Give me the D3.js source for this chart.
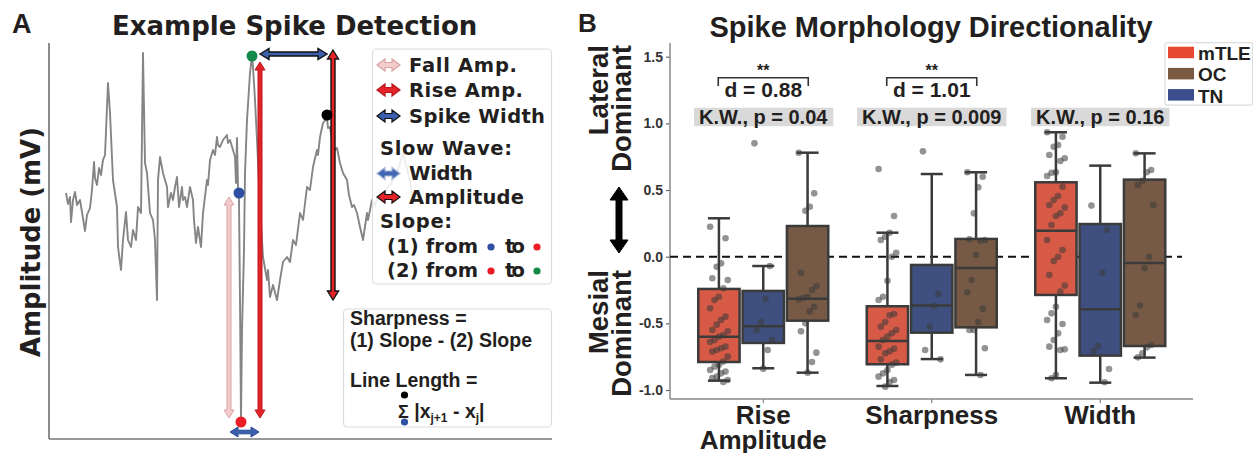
<!DOCTYPE html>
<html>
<head>
<meta charset="utf-8">
<script src="https://cdn.jsdelivr.net/npm/d3@7"></script>
<style>
  body { margin: 0; background: #fff; }
  svg { display: block; font-family: "Liberation Sans", Arial, sans-serif; }
</style>
</head>
<body>
<div id="chart"></div>
<script>
const width = 1253;
const height = 453;
const wideFont = "\"DejaVu Sans\", Verdana, sans-serif";

// ---------- panel A data (time in samples, amplitude in arbitrary units) ----------
const traceT = [17,19,21,22,24,26,28,31,33,36,38,41,43,45,46,48,50,52,54,56,59,61,64,68,69,72,74,77,79,82,84,87,89,92,94,96,98,101,104,106,108,109,111,114,118,119,122,124,126,128,130,133,134,136,138,141,144,145,147,149,152,154,158,159,161,164,166,168,169,171,174,178,179,181,184,186,187,188,189,190,191,192,193,195,196,198,201,203,204,206,208,211,214,218,219,221,224,228,231,234,238,241,244,247,251,254,258,261,264,268,269,271,274,278,279,281,283,286,288,291,294,298,300,303,305,308,311,314,318,319,323,326,329,334,337,341,344,349,354,357,361,364];
const traceA = [246,235,242,217,239,247,234,239,227,208,224,231,249,277,261,254,271,264,279,284,356,326,259,232,192,169,199,227,199,192,209,199,232,226,386,276,266,226,219,199,139,259,282,266,252,232,246,239,252,262,232,252,239,242,232,252,239,219,196,212,192,226,259,254,279,289,284,302,294,292,299,304,296,299,289,282,256,301,252,239,139,19,109,189,266,319,366,383,372,339,299,232,182,159,169,142,154,139,159,177,182,177,199,194,226,219,252,249,272,289,284,302,316,321,311,312,299,289,291,276,266,259,244,232,234,226,212,199,226,219,239,234,242,239,249,254,259,269,286,274,259,236];

const keyPoints = [
  { name: "onset",  t: 190, a: 246, color: "#2f4fa2" },
  { name: "trough", t: 192, a: 17,  color: "#ec1c24" },
  { name: "peak",   t: 203, a: 383, color: "#13894a" },
  { name: "slow",   t: 278, a: 324, color: "#000000" }
];
const slowTroughA = 139;

const legendA = [
  { label: "Fall Amp.",   fill: "#f3cccc", stroke: "#d9a3a3", len: 108 },
  { label: "Rise Amp.",   fill: "#e52228", stroke: "#b8171c", len: 114 },
  { label: "Spike Width", fill: "#3c5fae", stroke: "#111111", len: 136 }
];
const legendSlow = [
  { label: "Width",     fill: "#4266b3", stroke: "#a9b8dc", len: 64 },
  { label: "Amplitude", fill: "#e52228", stroke: "#111111", len: 115 }
];

// ---------- panel B data ----------
const categories = ["Rise Amplitude", "Sharpness", "Width"];
const groups = ["mTLE", "TN", "OC"];
const legendOrder = ["mTLE", "OC", "TN"];
const boxFill = { mTLE: "#d65a45", TN: "#3f5080", OC: "#775a45" };
const legendFill = { mTLE: "#e6492f", OC: "#7b5a42", TN: "#3b4f8e" };

// [low whisker, q1, median, q3, high whisker] per category
const statsMTLE = [[-0.93, -0.79, -0.60, -0.242, 0.288], [-0.97, -0.807, -0.632, -0.372, 0.18], [-0.912, -0.287, 0.195, 0.558, 0.933]];
const statsTN   = [[-0.837, -0.647, -0.522, -0.257, -0.07], [-0.768, -0.57, -0.367, -0.062, 0.62], [-0.945, -0.742, -0.395, 0.245, 0.683]];
const statsOC   = [[-0.87, -0.48, -0.315, 0.23, 0.78], [-0.887, -0.53, -0.085, 0.133, 0.633], [-0.757, -0.67, -0.047, 0.578, 0.775]];

const pointsMTLE = [
  [0.225,0.138,-0.05,-0.075,-0.162,-0.175,-0.237,-0.30,-0.325,-0.387,-0.45,-0.475,-0.51,-0.55,-0.56,-0.587,-0.60,-0.625,-0.64,-0.675,-0.687,-0.70,-0.712,-0.75,-0.787,-0.81,-0.825,-0.85,-0.862,-0.875,-0.90,-0.91,-0.925,-0.94],
  [0.658,0.305,0.18,0.15,0.125,0.03,0.0,-0.18,-0.30,-0.325,-0.43,-0.44,-0.49,-0.525,-0.55,-0.575,-0.60,-0.625,-0.675,-0.69,-0.71,-0.725,-0.77,-0.795,-0.81,-0.85,-0.875,-0.90,-0.925,-0.94,-0.975],
  [0.933,0.90,0.838,0.825,0.763,0.738,0.718,0.633,0.63,0.605,0.525,0.455,0.425,0.388,0.368,0.325,0.305,0.238,0.125,0.05,0.0,-0.032,-0.137,-0.217,-0.262,-0.375,-0.425,-0.475,-0.505,-0.575,-0.625,-0.675,-0.695,-0.70,-0.887,-0.912]
];
const pointsTN = [
  [0.85,-0.07,-0.32,-0.49,-0.55,-0.625,-0.70,-0.84],
  [0.79,-0.28,-0.37,-0.525,-0.70,-0.77],
  [0.383,0.20,-0.12,-0.67,-0.707,-0.842,-0.942]
];
const pointsOC = [
  [0.78,0.475,0.375,0.345,-0.12,-0.22,-0.25,-0.30,-0.31,-0.32,-0.375,-0.41,-0.50,-0.56,-0.72,-0.79,-0.87],
  [0.633,0.60,0.52,0.325,0.13,0.125,0.12,0.0125,-0.175,-0.267,-0.39,-0.49,-0.55,-0.55,-0.687,-0.887],
  [0.775,0.65,0.633,0.57,0.538,0.388,0.0,-0.087,-0.367,-0.437,-0.663,-0.68,-0.725,-0.755]
];

const kwLabels = ["K.W., p = 0.04", "K.W., p = 0.009", "K.W., p = 0.16"];
const effectLabels = ["d = 0.88", "d = 1.01", null];
const starLabels = ["**", "**", null];

const statsByGroup = { mTLE: statsMTLE, TN: statsTN, OC: statsOC };
const pointsByGroup = { mTLE: pointsMTLE, TN: pointsTN, OC: pointsOC };

const ink = "#231f20";

const svg = d3.select("#chart").append("svg")
  .attr("width", width)
  .attr("height", height);

// double-headed arrow polygon between two points
function dblArrow(g, x1, y1, x2, y2, o) {
  const L = Math.hypot(x2 - x1, y2 - y1);
  const ang = Math.atan2(y2 - y1, x2 - x1) * 180 / Math.PI;
  const sw = o.sw, hw = o.hw, hl = o.hl;
  const pts = [[0, 0], [hl, -hw], [hl, -sw], [L - hl, -sw], [L - hl, -hw], [L, 0],
               [L - hl, hw], [L - hl, sw], [hl, sw], [hl, hw]];
  g.append("path")
    .attr("d", "M" + pts.map(p => p.join(",")).join("L") + "Z")
    .attr("transform", `translate(${x1},${y1}) rotate(${ang})`)
    .attr("fill", o.fill)
    .attr("stroke", o.stroke)
    .attr("stroke-width", o.strokeWidth || 1)
    .attr("stroke-linejoin", "miter");
}

// ================= PANEL A =================
const xA = d3.scaleLinear().domain([0, 503]).range([49, 552]);
const yA = d3.scaleLinear().domain([0, 396]).range([439, 43]);
const gA = svg.append("g");

gA.append("text").attr("x", 12).attr("y", 33)
  .attr("font-size", 27).attr("font-weight", "bold").attr("fill", ink).text("A");

gA.append("text").attr("x", 112).attr("y", 35)
  .attr("font-family", wideFont).attr("font-size", 26).attr("font-weight", "bold")
  .attr("fill", ink)
  .text("Example Spike Detection");

gA.append("text")
  .attr("transform", "translate(40,242) rotate(-90)")
  .attr("text-anchor", "middle").attr("font-family", wideFont).attr("font-size", 27).attr("font-weight", "bold")
  .attr("fill", ink).attr("textLength", 230).attr("lengthAdjust", "spacingAndGlyphs")
  .text("Amplitude (mV)");

// axes lines
gA.append("line").attr("x1", xA(0)).attr("x2", xA(0)).attr("y1", yA(396)).attr("y2", yA(0))
  .attr("stroke", "#666").attr("stroke-width", 1.5);
gA.append("line").attr("x1", xA(0)).attr("x2", xA(503)).attr("y1", yA(0)).attr("y2", yA(0))
  .attr("stroke", "#777").attr("stroke-width", 1.5);

const trace = traceT.map((t, i) => ({ t: t, a: traceA[i] }));
gA.append("path")
  .datum(trace)
  .attr("fill", "none")
  .attr("stroke", "#858585")
  .attr("stroke-width", 1.9)
  .attr("stroke-linejoin", "round")
  .attr("d", d3.line().x(d => xA(d.t)).y(d => yA(d.a)));

const kp = Object.fromEntries(keyPoints.map(d => [d.name, d]));

// fall amplitude
dblArrow(gA, xA(kp.onset.t) - 10, yA(kp.onset.a) + 4, xA(kp.onset.t) - 10, yA(kp.trough.a) - 4,
  { sw: 2, hw: 5, hl: 8, fill: "#f3cccc", stroke: "#d9a3a3" });
// rise amplitude
dblArrow(gA, xA(kp.peak.t) + 8, yA(kp.peak.a) + 6, xA(kp.peak.t) + 8, yA(kp.trough.a) - 4,
  { sw: 2, hw: 5, hl: 8, fill: "#e52228", stroke: "#b8171c" });
// spike width
dblArrow(gA, xA(kp.onset.t) - 9, yA(kp.trough.a) + 10, xA(kp.peak.t) + 7, yA(kp.trough.a) + 10,
  { sw: 1.8, hw: 5, hl: 8, fill: "#3c5fae", stroke: "#2b4a96" });
// slow wave width
dblArrow(gA, xA(kp.peak.t) + 8, yA(kp.peak.a) - 2, xA(kp.slow.t), yA(kp.peak.a) - 2,
  { sw: 2, hw: 5.5, hl: 9, fill: "#3c5fae", stroke: "#111", strokeWidth: 1.4 });
// slow wave amplitude
dblArrow(gA, xA(kp.slow.t) + 6, yA(kp.peak.a) - 6, xA(kp.slow.t) + 6, yA(slowTroughA),
  { sw: 2, hw: 5.5, hl: 9, fill: "#e52228", stroke: "#111", strokeWidth: 1.4 });

gA.selectAll("circle.key")
  .data(keyPoints)
  .enter().append("circle")
  .attr("class", "key")
  .attr("cx", d => xA(d.t))
  .attr("cy", d => yA(d.a))
  .attr("r", 5.5)
  .attr("fill", d => d.color);

// legend box A
const lg = gA.append("g").attr("font-family", wideFont);
lg.append("rect").attr("x", 372.5).attr("y", 49).attr("width", 179).attr("height", 235)
  .attr("rx", 4).attr("fill", "#fff").attr("fill-opacity", 0.85)
  .attr("stroke", "#dcdcdc").attr("stroke-width", 1.2);

const rowY = [65, 90, 116];
legendA.forEach((d, i) => {
  dblArrow(lg, 377, rowY[i], 400, rowY[i], { sw: 2.5, hw: 6, hl: 8, fill: d.fill, stroke: d.stroke, strokeWidth: 1.2 });
  lg.append("text").attr("x", 409).attr("y", rowY[i] + 6.5).attr("font-size", 19.5).attr("font-weight", "bold")
    .attr("fill", ink).attr("textLength", d.len).attr("lengthAdjust", "spacing").text(d.label);
});
lg.append("text").attr("x", 380).attr("y", 155).attr("font-size", 19.5).attr("font-weight", "bold")
  .attr("fill", ink).attr("textLength", 132).attr("lengthAdjust", "spacing").text("Slow Wave:");
const slowY = [173.5, 197];
legendSlow.forEach((d, i) => {
  dblArrow(lg, 377, slowY[i], 400, slowY[i], { sw: 2.5, hw: 6, hl: 8, fill: d.fill, stroke: d.stroke, strokeWidth: 1.2 });
  lg.append("text").attr("x", 409).attr("y", slowY[i] + 6.5).attr("font-size", 19.5).attr("font-weight", "bold")
    .attr("fill", ink).attr("textLength", d.len).attr("lengthAdjust", "spacing").text(d.label);
});
lg.append("text").attr("x", 380).attr("y", 228).attr("font-size", 19.5).attr("font-weight", "bold")
  .attr("fill", ink).attr("textLength", 72).attr("lengthAdjust", "spacing").text("Slope:");

const slopeRows = [
  { label: "(1) from", from: kp.onset.color, to: kp.trough.color, y: 253 },
  { label: "(2) from", from: kp.trough.color, to: kp.peak.color, y: 277 }
];
slopeRows.forEach(r => {
  lg.append("text").attr("x", 387).attr("y", r.y).attr("font-size", 19.5).attr("font-weight", "bold")
    .attr("fill", ink).attr("textLength", 91).attr("lengthAdjust", "spacing").text(r.label);
  lg.append("circle").attr("cx", 491).attr("cy", r.y - 6).attr("r", 3.6).attr("fill", r.from);
  lg.append("text").attr("x", 505).attr("y", r.y).attr("font-size", 19.5).attr("font-weight", "bold")
    .attr("fill", ink).attr("textLength", 20).attr("lengthAdjust", "spacing").text("to");
  lg.append("circle").attr("cx", 537).attr("cy", r.y - 6).attr("r", 3.6).attr("fill", r.to);
});

// sharpness / line length box
const sb = gA.append("g");
sb.append("rect").attr("x", 343.5).attr("y", 309).attr("width", 208).attr("height", 118)
  .attr("rx", 4).attr("fill", "#fff").attr("stroke", "#dcdcdc").attr("stroke-width", 1.2);
sb.append("text").attr("x", 350).attr("y", 325).attr("font-size", 19.5).attr("font-weight", "bold")
  .attr("fill", ink).text("Sharpness =");
sb.append("text").attr("x", 350).attr("y", 346.5).attr("font-size", 19.5).attr("font-weight", "bold")
  .attr("fill", ink).text("(1) Slope - (2) Slope");
sb.append("text").attr("x", 350).attr("y", 386.5).attr("font-size", 19.5).attr("font-weight", "bold")
  .attr("fill", ink).text("Line Length =");
const f = sb.append("text").attr("x", 398).attr("y", 418).attr("font-size", 19.5).attr("font-weight", "bold").attr("fill", ink);
f.append("tspan").attr("font-size", 18).text("Σ");
f.append("tspan").text(" |x");
f.append("tspan").attr("font-size", 12).attr("dy", 4).text("j+1");
f.append("tspan").attr("dy", -4).text(" - x");
f.append("tspan").attr("font-size", 12).attr("dy", 4).text("j");
f.append("tspan").attr("dy", -4).text("|");
sb.append("circle").attr("cx", 404.5).attr("cy", 395).attr("r", 3.6).attr("fill", kp.slow.color);
sb.append("circle").attr("cx", 404.5).attr("cy", 422).attr("r", 3.6).attr("fill", kp.onset.color);

// ================= PANEL B =================
const yB = d3.scaleLinear().domain([-1, 1.5]).range([390, 56.7]);
const xB = d3.scaleBand().domain(categories).range([679, 1184.5]);
const groupSpan = 133;
const xG = d3.scaleBand().domain(groups).range([0, groupSpan]);
const gB = svg.append("g");
const axisX = 670, axisBottom = 399;

gB.append("text").attr("x", 578).attr("y", 32)
  .attr("font-size", 26).attr("font-weight", "bold").attr("fill", ink).text("B");
gB.append("text").attr("x", 931).attr("y", 37)
  .attr("text-anchor", "middle").attr("font-size", 29).attr("font-weight", "bold")
  .attr("fill", ink).text("Spike Morphology Directionality");

// y axis
const yAxis = d3.axisLeft(yB)
  .tickValues([-1, -0.5, 0, 0.5, 1, 1.5])
  .tickSize(4)
  .tickFormat(d => d3.format(".1f")(d).replace("\u2212", "-"));
const yAxisG = gB.append("g").attr("transform", `translate(${axisX},0)`).call(yAxis);
yAxisG.select(".domain").remove();
yAxisG.selectAll(".tick line").attr("stroke", "#666").attr("stroke-width", 1.2);
yAxisG.selectAll(".tick text").attr("font-size", 14).attr("font-weight", "bold")
  .attr("fill", "#333").attr("font-family", "\"Liberation Sans\", Arial, sans-serif");
gB.append("line").attr("x1", axisX).attr("x2", axisX).attr("y1", 43).attr("y2", axisBottom)
  .attr("stroke", "#888").attr("stroke-width", 1.5);

// x axis
gB.append("line").attr("x1", axisX).attr("x2", 1193).attr("y1", axisBottom).attr("y2", axisBottom)
  .attr("stroke", "#888").attr("stroke-width", 1.5);
const xLabels = { "Rise Amplitude": ["Rise", "Amplitude"], "Sharpness": ["Sharpness"], "Width": ["Width"] };
categories.forEach(c => {
  const cx = xB(c) + xB.bandwidth() / 2;
  gB.append("line").attr("x1", cx).attr("x2", cx).attr("y1", axisBottom).attr("y2", axisBottom + 4)
    .attr("stroke", "#888").attr("stroke-width", 1.2);
  xLabels[c].forEach((line, i) => {
    gB.append("text").attr("x", cx).attr("y", 424 + i * 25)
      .attr("text-anchor", "middle").attr("font-size", 26).attr("font-weight", "bold")
      .attr("fill", ink).text(line);
  });
});

// y direction labels
[["Lateral", 608], ["Dominant", 631]].forEach(([t, x]) => {
  gB.append("text").attr("transform", `translate(${x},45) rotate(-90)`)
    .attr("text-anchor", "end").attr("font-size", 27.5).attr("font-weight", "bold")
    .attr("fill", ink).text(t);
});
[["Mesial", 608], ["Dominant", 631]].forEach(([t, x]) => {
  gB.append("text").attr("transform", `translate(${x},270) rotate(-90)`)
    .attr("text-anchor", "end").attr("font-size", 27.5).attr("font-weight", "bold")
    .attr("fill", ink).text(t);
});
dblArrow(gB, 619, 187, 619, 253, { sw: 3, hw: 9, hl: 13, fill: "#000", stroke: "#000" });

// zero line
gB.append("line").attr("x1", axisX).attr("x2", 1182).attr("y1", yB(0)).attr("y2", yB(0))
  .attr("stroke", "#111").attr("stroke-width", 2).attr("stroke-dasharray", "8,5");

// boxes
const boxes = gB.append("g");
const dots = gB.append("g");
categories.forEach((c, ci) => {
  const center = xB(c) + xB.bandwidth() / 2;
  groups.forEach(g => {
    const [lo, q1, med, q3, hi] = statsByGroup[g][ci];
    const x0 = center - groupSpan / 2 + xG(g);
    const bw = xG.bandwidth();
    const mx = x0 + bw / 2;
    const bg = boxes.append("g").attr("stroke", "#3b3b3b").attr("stroke-width", 2.5);
    bg.append("line").attr("x1", mx).attr("x2", mx).attr("y1", yB(q3)).attr("y2", yB(hi));
    bg.append("line").attr("x1", mx).attr("x2", mx).attr("y1", yB(q1)).attr("y2", yB(lo));
    bg.append("line").attr("x1", mx - 11).attr("x2", mx + 11).attr("y1", yB(hi)).attr("y2", yB(hi));
    bg.append("line").attr("x1", mx - 11).attr("x2", mx + 11).attr("y1", yB(lo)).attr("y2", yB(lo));
    bg.append("rect").attr("x", x0 + 1.5).attr("y", yB(q3)).attr("width", bw - 3)
      .attr("height", yB(q1) - yB(q3)).attr("fill", boxFill[g]);
    bg.append("line").attr("x1", x0 + 1.5).attr("x2", x0 + bw - 1.5).attr("y1", yB(med)).attr("y2", yB(med));

    dots.selectAll(null)
      .data(pointsByGroup[g][ci])
      .enter().append("circle")
      .attr("cx", (d, i) => mx + (((i * 7) % 9) - 4) * 2.2)
      .attr("cy", d => yB(d))
      .attr("r", 3.3)
      .attr("fill", "#3a3a3a")
      .attr("fill-opacity", 0.55);
  });

  // stats annotations
  const kw = gB.append("g");
  const kwText = kw.append("text").attr("x", center).attr("y", 123.5)
    .attr("text-anchor", "middle").attr("font-size", 20).attr("font-weight", "bold")
    .attr("fill", ink).text(kwLabels[ci]);
  const bb = kwText.node().getBBox();
  kw.insert("rect", "text").attr("x", bb.x - 5).attr("y", 107.7).attr("width", bb.width + 10)
    .attr("height", 18.5).attr("fill", "#d9d9d9");

  if (effectLabels[ci]) {
    gB.append("path")
      .attr("d", `M${center - 45},86V77.7H${center + 45}V86`)
      .attr("fill", "none").attr("stroke", "#333").attr("stroke-width", 1.6);
    gB.append("text").attr("x", center).attr("y", 76).attr("text-anchor", "middle")
      .attr("font-size", 16).attr("font-weight", "bold").attr("fill", ink).text(starLabels[ci]);
    gB.append("text").attr("x", center).attr("y", 97).attr("text-anchor", "middle")
      .attr("font-size", 21).attr("font-weight", "bold").attr("fill", ink).text(effectLabels[ci]);
  }
});

// legend B
const lgB = gB.append("g");
lgB.append("rect").attr("x", 1165).attr("y", 42.7).attr("width", 87.5).attr("height", 62.5)
  .attr("fill", "#fff").attr("stroke", "#dcdcdc").attr("stroke-width", 1.2).attr("rx", 2);
legendOrder.forEach((g, i) => {
  const y = 46.7 + i * 21.2;
  lgB.append("rect").attr("x", 1168).attr("y", y).attr("width", 26).attr("height", 11.5)
    .attr("fill", legendFill[g]);
  lgB.append("text").attr("x", 1198).attr("y", y + 13.5).attr("font-size", 19)
    .attr("font-weight", "bold").attr("fill", ink).text(g);
});
</script>
</body>
</html>
